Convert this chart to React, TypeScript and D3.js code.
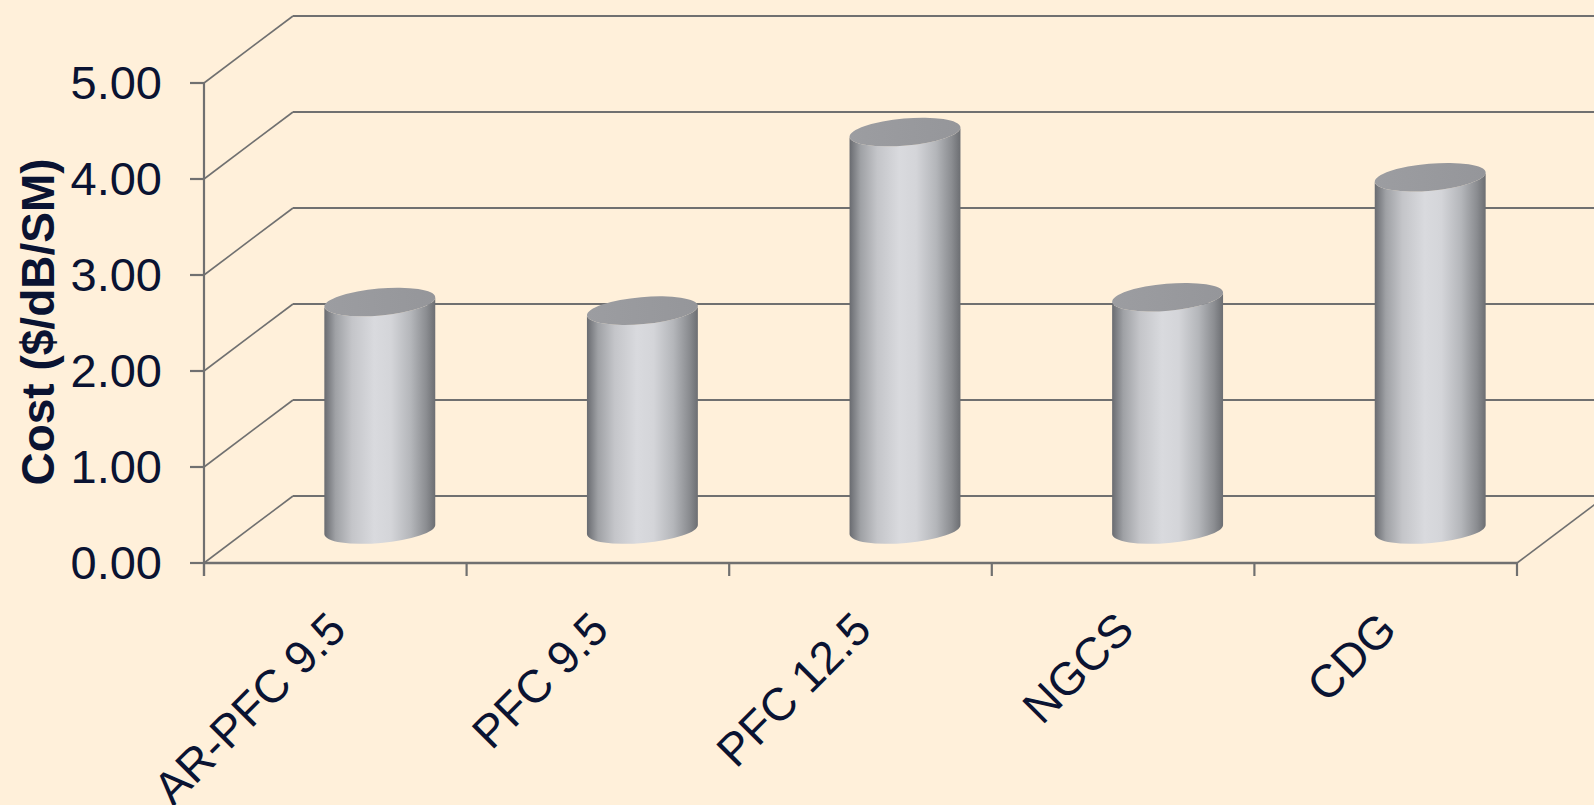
import React from "react";
import * as d3 from "d3";

const categories = ["AR-PFC 9.5", "PFC 9.5", "PFC 12.5", "NGCS", "CDG"];
const costs = [2.37, 2.28, 4.14, 2.42, 3.67];
const yTicks = [0, 1, 2, 3, 4, 5];
const yTitle = "Cost ($/dB/SM)";

const W = 1594;
const H = 805;
const DX = 89;
const DY = -67;
const BG = "#FFF0DA";
const GRID = "#707070";
const TEXT = "#0A1332";
const FONT = "'Liberation Sans', Arial, sans-serif";

export default function App() {
  const x = d3.scaleBand<string>().domain(categories).range([204, 1517]).padding(0);
  const y = d3.scaleLinear().domain([0, 5]).range([563, 83]);
  const bw = x.bandwidth();
  const rx = bw * 0.212;
  const ry = 13.5;
  const ang = -5;
  const a = (ang * Math.PI) / 180;
  const ex = rx * Math.cos(a);
  const ey = rx * Math.sin(a);

  const cyl = (cx: number, yb: number, yt: number) => {
    const Lt = [cx - ex, yt - ey];
    const Rt = [cx + ex, yt + ey];
    const Lb = [cx - ex, yb - ey];
    const Rb = [cx + ex, yb + ey];
    return `M${Lt[0]},${Lt[1]} L${Lb[0]},${Lb[1]} A${rx},${ry} ${ang} 0 0 ${Rb[0]},${Rb[1]} L${Rt[0]},${Rt[1]} A${rx},${ry} ${ang} 0 1 ${Lt[0]},${Lt[1]} Z`;
  };

  const x0 = x.range()[0];
  const x1 = x.range()[1];

  return (
    <svg width={W} height={H} style={{ position: "absolute", left: 0, top: 0, display: "block" }}>
      <defs>
        <linearGradient id="body" x1="0" x2="1" y1="0" y2="0">
          <stop offset="0%" stopColor="#696b70" />
          <stop offset="10%" stopColor="#9fa1a5" />
          <stop offset="25%" stopColor="#c4c5c9" />
          <stop offset="45%" stopColor="#d9dade" />
          <stop offset="60%" stopColor="#d4d5d9" />
          <stop offset="78%" stopColor="#b4b6ba" />
          <stop offset="92%" stopColor="#8b8d91" />
          <stop offset="100%" stopColor="#6c6e72" />
        </linearGradient>
        <linearGradient id="top" x1="0" x2="1" y1="0" y2="0">
          <stop offset="0%" stopColor="#9c9da1" />
          <stop offset="100%" stopColor="#95969a" />
        </linearGradient>
      </defs>
      <rect x={0} y={0} width={W} height={H} fill={BG} />

      {yTicks.map((t) => (
        <g key={"g" + t}>
          <line x1={x0} y1={y(t)} x2={x0 + DX} y2={y(t) + DY} stroke={GRID} strokeWidth={1.6} />
          <line x1={x0 + DX} y1={y(t) + DY} x2={x1 + DX} y2={y(t) + DY} stroke={GRID} strokeWidth={2.2} />
        </g>
      ))}
      <line x1={x1} y1={y(0)} x2={x1 + DX} y2={y(0) + DY} stroke={GRID} strokeWidth={1.6} />

      {categories.map((c, i) => {
        const cx = (x(c) as number) + bw / 2 + DX / 2;
        const yb = y(0) + DY / 2;
        const yt = y(costs[i]) + DY / 2;
        return (
          <g key={c}>
            <path d={cyl(cx, yb, yt)} fill="url(#body)" />
            <ellipse cx={cx} cy={yt} rx={rx} ry={ry} transform={`rotate(${ang} ${cx} ${yt})`} fill="url(#top)" />
          </g>
        );
      })}

      <line x1={x0} y1={y(0)} x2={x1} y2={y(0)} stroke={GRID} strokeWidth={2.6} />
      <line x1={x0} y1={y(5)} x2={x0} y2={y(0) + 13} stroke={GRID} strokeWidth={2.2} />
      {yTicks.map((t) => (
        <g key={"yt" + t}>
          <line x1={x0 - 14} y1={y(t)} x2={x0} y2={y(t)} stroke={GRID} strokeWidth={2.2} />
          <text x={162} y={y(t)} dy="0.35em" textAnchor="end" fontFamily={FONT} fontSize={47} fill={TEXT}>
            {t.toFixed(2)}
          </text>
        </g>
      ))}
      {categories.concat(["__end"]).map((c, i) => {
        const xx = i < categories.length ? (x(c) as number) : x1;
        return <line key={"xt" + i} x1={xx} y1={y(0)} x2={xx} y2={y(0) + 13} stroke={GRID} strokeWidth={2.2} />;
      })}
      {categories.map((c) => {
        const cx = (x(c) as number) + bw / 2;
        const px = cx + 13;
        const py = 632;
        return (
          <text
            key={"xl" + c}
            x={px}
            y={py}
            textAnchor="end"
            fontFamily={FONT}
            fontSize={46}
            fill={TEXT}
            transform={`rotate(-45 ${px} ${py})`}
          >
            {c}
          </text>
        );
      })}
      <text
        x={0}
        y={0}
        textAnchor="middle"
        fontFamily={FONT}
        fontWeight="bold"
        fontSize={46}
        fill={TEXT}
        transform={`translate(54,322) rotate(-90)`}
      >
        {yTitle}
      </text>
    </svg>
  );
}
